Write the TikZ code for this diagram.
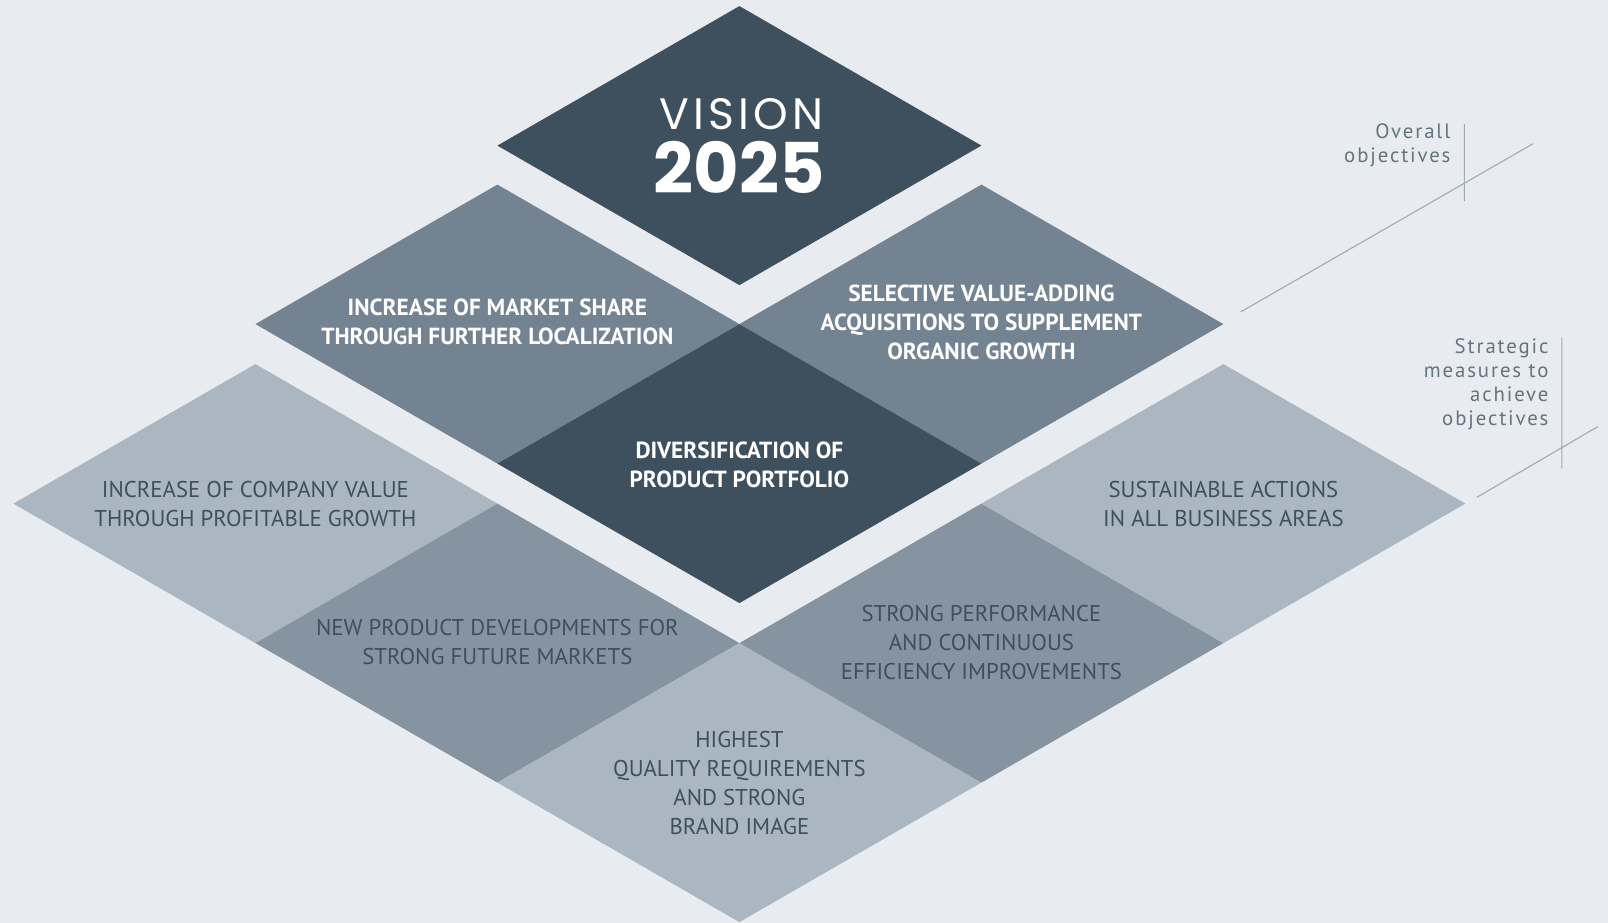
\documentclass[tikz,border=0pt]{standalone}
\usepackage{fontspec}
\usepackage{tikz}
\setmainfont{PT Sans}
\newfontfamily\visionfont{Poppins}
\newfontfamily\spacedvision[LetterSpace=10]{Poppins}
\newfontfamily\notefont[LetterSpace=9]{PT Sans}
\definecolor{bgpale}{HTML}{E8ECF0}
\definecolor{slatedark}{HTML}{3E505D}
\definecolor{slatemid}{HTML}{738392}
\definecolor{slategrey}{HTML}{8594A0}
\definecolor{slatelight}{HTML}{AAB6C1}
\definecolor{guidegray}{HTML}{A2A9B0}
\definecolor{notegray}{HTML}{66747F}
\tikzstyle{headword}=[text=white, font=\spacedvision\fontsize{44}{44}\selectfont]
\tikzstyle{headyear}=[text=white, font=\visionfont\bfseries\fontsize{70}{70}\selectfont]
\tikzstyle{uppertext}=[align=center, text=white, font=\bfseries\fontsize{23.3}{29}\selectfont]
\tikzstyle{lowertext}=[align=center, text=slatedark, font=\fontsize{22.8}{29}\selectfont]
\tikzstyle{notetext}=[align=right, anchor=east, text=notegray, font=\notefont\fontsize{20.8}{24}\selectfont]
\tikzstyle{guide}=[draw=guidegray, line width=1.1pt]
\newcommand{\rhomb}[3]{\fill[#3] (#1-242,#2) -- (#1,#2-139.5) -- (#1+242,#2) -- (#1,#2+139.5) -- cycle;}

\begin{document}
\begin{tikzpicture}[x=1pt, y=-1pt]
	\fill[bgpale] (0,0) rectangle (1608,923);
	\useasboundingbox (0,0) rectangle (1608,923);
	% top
	\rhomb{739.4}{145.6}{slatedark}
	% second layer
	\rhomb{497.4}{324.1}{slatemid}
	\rhomb{981.4}{324.1}{slatemid}
	\rhomb{739.4}{463.6}{slatedark}
	% third layer
	\rhomb{255.4}{503.6}{slatelight}
	\rhomb{497.4}{643.1}{slategrey}
	\rhomb{739.4}{782.6}{slatelight}
	\rhomb{981.4}{643.1}{slategrey}
	\rhomb{1223.4}{503.6}{slatelight}
	\node[headword] (vision) at (741.5,114) {VISION};
	\node[headyear] (year) at (739.4,167) {2025};
	\node[uppertext] (share) at (497.4,322) {INCREASE OF MARKET SHARE\\THROUGH FURTHER LOCALIZATION};
	\node[uppertext] (acquire) at (981.4,322) {SELECTIVE VALUE-ADDING\\ACQUISITIONS TO SUPPLEMENT\\ORGANIC GROWTH};
	\node[uppertext] (divers) at (739.4,464.5) {DIVERSIFICATION OF\\PRODUCT PORTFOLIO};
	\node[lowertext] (value) at (255.4,504.5) {INCREASE OF COMPANY VALUE\\THROUGH PROFITABLE GROWTH};
	\node[lowertext] (develop) at (497.4,642) {NEW PRODUCT DEVELOPMENTS FOR\\STRONG FUTURE MARKETS};
	\node[lowertext] (quality) at (739.4,783.5) {HIGHEST\\QUALITY REQUIREMENTS\\AND STRONG\\BRAND IMAGE};
	\node[lowertext] (perform) at (981.4,643) {STRONG PERFORMANCE\\AND CONTINUOUS\\EFFICIENCY IMPROVEMENTS};
	\node[lowertext] (sustain) at (1223.4,504.5) {SUSTAINABLE ACTIONS\\IN ALL BUSINESS AREAS};
	% side notes
	\node[notetext] (overall) at (1454,145) {Overall\\objectives};
	\node[notetext] (measures) at (1552,384.6) {Strategic\\measures to\\achieve\\objectives};
	\coordinate (g1a) at (1240.9,311.8);
	\coordinate (g1b) at (1533.2,143.6);
	\coordinate (t1a) at (1464.4,124.1);
	\coordinate (t1b) at (1464.4,201);
	\coordinate (g2a) at (1476.7,497.4);
	\coordinate (g2b) at (1597.8,426.6);
	\coordinate (t2a) at (1561.9,337.4);
	\coordinate (t2b) at (1561.9,468.7);
	\path[guide] (g1a) -- (g1b) (t1a) -- (t1b);
	\path[guide] (g2a) -- (g2b) (t2a) -- (t2b);
\end{tikzpicture}
\end{document}
